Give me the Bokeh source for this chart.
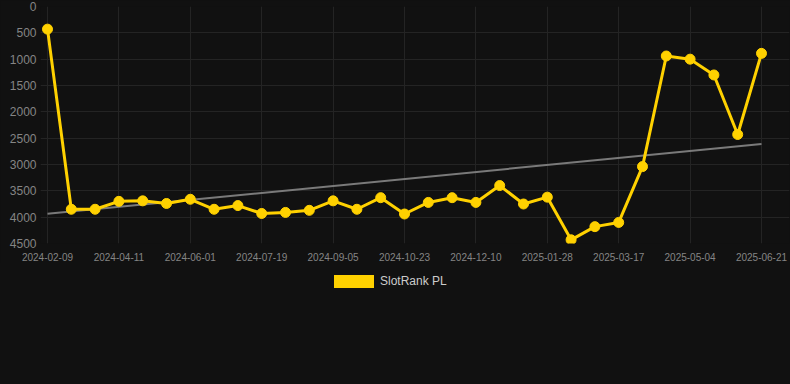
import numpy as np
from bokeh.plotting import figure
from bokeh.layouts import column
from bokeh.models import Range1d, FixedTicker, Div
from bokeh.embed import file_html
from bokeh.resources import INLINE

# ---- data ----
dates = [
    "2024-02-09", "2024-03-01", "2024-03-21", "2024-04-11", "2024-04-28", "2024-05-15",
    "2024-06-01", "2024-06-17", "2024-07-03", "2024-07-19", "2024-08-04", "2024-08-20",
    "2024-09-05", "2024-09-21", "2024-10-07", "2024-10-23", "2024-11-08", "2024-11-24",
    "2024-12-10", "2024-12-26", "2025-01-11", "2025-01-28", "2025-02-13", "2025-03-01",
    "2025-03-17", "2025-04-02", "2025-04-18", "2025-05-04", "2025-05-20", "2025-06-05",
    "2025-06-21",
]
ranks = [
    430, 3850, 3850, 3700, 3690, 3740, 3660, 3850, 3780, 3930, 3910, 3870,
    3690, 3850, 3630, 3940, 3720, 3630, 3720, 3400, 3750, 3620, 4430, 4180,
    4100, 3040, 940, 1000, 1300, 2430, 890,
]
y_ticks = [0, 500, 1000, 1500, 2000, 2500, 3000, 3500, 4000, 4500]
label_every = 3
series_name = "SlotRank PL"

GOLD = "#FFD100"
BG = "#111111"
GRID = "#242424"
TICK_TEXT = "#858585"
FONT = "Liberation Sans"

x = list(range(len(dates)))
slope, intercept = np.polyfit(x, ranks, 1)
trend_x = [x[0], x[-1]]
trend_y = [intercept + slope * x[0], intercept + slope * x[-1]]

# layout: data span 714px; frame padded 7px left and 28px right
FRAME_W = 749
step_px = 714 / (len(x) - 1)
pad_l, pad_r = 7 / step_px, 28 / step_px

p = figure(
    frame_width=FRAME_W, frame_height=237,
    output_backend="svg", toolbar_location=None,
    x_range=Range1d(x[0] - pad_l, x[-1] + pad_r),
    y_range=Range1d(y_ticks[-1], y_ticks[0]),
    min_border_left=40, min_border_right=1, min_border_top=6, min_border_bottom=0,
    background_fill_color=BG, border_fill_color=BG, outline_line_color=None,
)

xticks = x[::label_every]
p.xaxis.ticker = FixedTicker(ticks=xticks)
p.xaxis.major_label_overrides = {i: dates[i] for i in xticks}
p.yaxis.ticker = FixedTicker(ticks=y_ticks)

for ax in (p.xaxis, p.yaxis):
    ax.axis_line_color = None
    ax.major_tick_line_color = None
    ax.minor_tick_line_color = None
    ax.major_tick_out = 0
    ax.major_tick_in = 0
    ax.major_label_text_color = TICK_TEXT
    ax.major_label_text_font = FONT
p.xaxis.major_label_text_font_size = "10px"
p.yaxis.major_label_text_font_size = "12px"
p.xaxis.major_label_standoff = 9
p.yaxis.major_label_standoff = 4

p.xgrid.grid_line_color = GRID
p.ygrid.grid_line_color = GRID

p.line(trend_x, trend_y, line_color="#7a7a7a", line_width=2)
p.line(x, ranks, line_color=GOLD, line_width=3)
p.scatter(x, ranks, size=10, fill_color=GOLD, line_color=GOLD)

legend_html = (
    '<div style="display:flex;align-items:center;margin:12px 0 0 334px;">'
    f'<span style="display:inline-block;width:40px;height:13px;background:{GOLD};"></span>'
    f'<span style="margin-left:6px;color:#cccccc;font-family:\'{FONT}\';font-size:12px;'
    f'line-height:13px;">{series_name}</span></div>'
)
legend_div = Div(text=legend_html, width=790, height=40,
                 styles={"margin": "0", "padding": "0", "background-color": BG})

layout = column(p, legend_div, spacing=0)

tmpl = "{% block preamble %}<style>html,body{background:#111111;}</style>{% endblock %}"
open("out.html", "w").write(file_html(layout, INLINE, template=tmpl))
